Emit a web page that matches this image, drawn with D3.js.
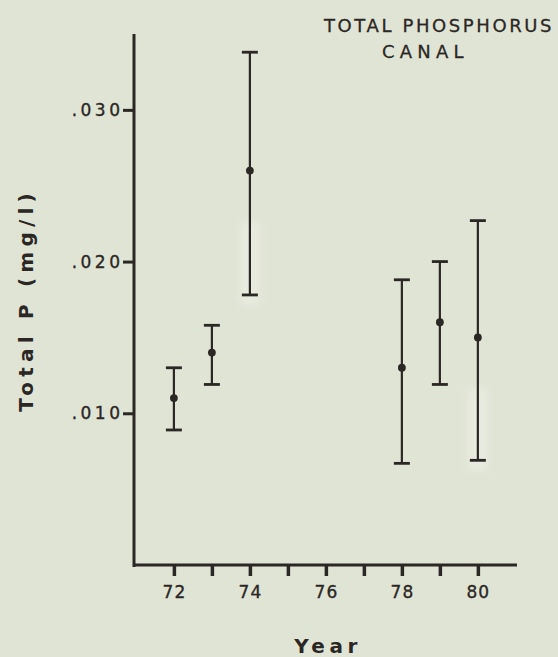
<!DOCTYPE html>
<html>
<head>
<meta charset="utf-8">
<script src="https://cdn.jsdelivr.net/npm/d3@7"></script>
<style>
  html, body { margin: 0; padding: 0; background: #e0e4d5; }
  svg { display: block; }
  text { fill: #2b2724; font-family: "DejaVu Sans", sans-serif; }
</style>
</head>
<body>
<svg id="chart" width="558" height="657"></svg>
<script>
// Annual total phosphorus in the canal: mean with range bars
const years = [72, 73, 74, 78, 79, 80];
const meanP = [0.011, 0.014, 0.026, 0.013, 0.016, 0.015];
const lowP  = [0.0089, 0.0119, 0.0178, 0.0067, 0.0119, 0.0069];
const highP = [0.0130, 0.0158, 0.0338, 0.0188, 0.0200, 0.0227];

const yTickValues = [0.010, 0.020, 0.030];
const xTickValues = [72, 73, 74, 75, 76, 77, 78, 79, 80];
const xLabelled   = [72, 74, 76, 78, 80];

const titleLines = ["TOTAL PHOSPHORUS", "CANAL"];
const yLabel = "Total P (mg/l)";
const xLabel = "Year";

const ink = "#2b2724";
const svg = d3.select("#chart");

const x = d3.scaleLinear().domain([70.95, 81.03]).range([134, 517]);
const y = d3.scaleLinear().domain([0, 0.035]).range([565, 34]);

// soft light patches from the print behind two of the bars
const defs = svg.append("defs");
defs.append("filter").attr("id", "soft")
  .attr("x", "-50%").attr("y", "-50%").attr("width", "200%").attr("height", "200%")
  .append("feGaussianBlur").attr("stdDeviation", 3.5);
[2, 5].forEach(i => {
  const top = y(lowP[i] + (highP[i] - lowP[i]) * 0.3);
  svg.append("rect")
    .attr("x", x(years[i]) - 10).attr("width", 20)
    .attr("y", top).attr("height", y(lowP[i]) - top + 10)
    .attr("fill", "#f1f3ea").attr("opacity", 0.45)
    .attr("filter", "url(#soft)");
});

// y axis
const yAxis = d3.axisLeft(y)
  .tickValues(yTickValues)
  .tickSize(11)
  .tickSizeOuter(0)
  .tickPadding(3)
  .tickFormat(d => d3.format(".3f")(d).replace(/^0/, ""));
const gy = svg.append("g").attr("transform", "translate(134,0)").call(yAxis);
gy.select(".domain").remove();
gy.selectAll(".tick line").attr("stroke", ink).attr("stroke-width", 3);
gy.selectAll(".tick text")
  .attr("font-size", 17)
  .attr("letter-spacing", "3.5px")
  .attr("dx", "3.5px")
  .attr("stroke", ink).attr("stroke-width", 0.35)
  .attr("fill", ink);
svg.append("line")
  .attr("x1", 134).attr("x2", 134)
  .attr("y1", y.range()[1]).attr("y2", y(0) + 2)
  .attr("stroke", ink).attr("stroke-width", 3);

// x axis
const xAxis = d3.axisBottom(x)
  .tickValues(xTickValues)
  .tickSize(11)
  .tickSizeOuter(0)
  .tickPadding(10)
  .tickFormat(d => xLabelled.includes(d) ? String(d) : "");
const gx = svg.append("g").attr("transform", `translate(0,${y(0)})`).call(xAxis);
gx.select(".domain").remove();
gx.selectAll(".tick line").attr("stroke", ink).attr("stroke-width", 3.5);
gx.selectAll(".tick text")
  .attr("font-size", 17)
  .attr("letter-spacing", "1px")
  .attr("stroke", ink).attr("stroke-width", 0.35)
  .attr("fill", ink);
svg.append("line")
  .attr("x1", 133).attr("x2", x.range()[1])
  .attr("y1", y(0)).attr("y2", y(0))
  .attr("stroke", ink).attr("stroke-width", 3);

// range bars with caps and mean dots
const capHalf = 8;
const bars = svg.append("g").selectAll("g")
  .data(years.map((yr, i) => ({ yr, mean: meanP[i], lo: lowP[i], hi: highP[i] })))
  .join("g");
bars.append("line")
  .attr("x1", d => x(d.yr)).attr("x2", d => x(d.yr))
  .attr("y1", d => y(d.hi)).attr("y2", d => y(d.lo))
  .attr("stroke", ink).attr("stroke-width", 2.2);
bars.append("line")
  .attr("x1", d => x(d.yr) - capHalf).attr("x2", d => x(d.yr) + capHalf)
  .attr("y1", d => y(d.hi)).attr("y2", d => y(d.hi))
  .attr("stroke", ink).attr("stroke-width", 2.8);
bars.append("line")
  .attr("x1", d => x(d.yr) - capHalf).attr("x2", d => x(d.yr) + capHalf)
  .attr("y1", d => y(d.lo)).attr("y2", d => y(d.lo))
  .attr("stroke", ink).attr("stroke-width", 2.8);
bars.append("circle")
  .attr("cx", d => x(d.yr)).attr("cy", d => y(d.mean))
  .attr("r", 3.9).attr("fill", ink);

// title block
svg.append("text")
  .attr("x", 324).attr("y", 32)
  .attr("font-size", 18).attr("letter-spacing", "2.6px")
  .attr("stroke", ink).attr("stroke-width", 0.3)
  .text(titleLines[0]);
svg.append("text")
  .attr("x", 382).attr("y", 58)
  .attr("font-size", 18).attr("letter-spacing", "5.2px")
  .attr("stroke", ink).attr("stroke-width", 0.3)
  .text(titleLines[1]);

// axis titles
svg.append("text")
  .attr("transform", "translate(33,300) rotate(-90)")
  .attr("text-anchor", "middle")
  .attr("font-size", 20).attr("font-weight", "bold")
  .attr("letter-spacing", "5.2px")
  .text(yLabel);
svg.append("text")
  .attr("x", 328).attr("y", 653)
  .attr("text-anchor", "middle")
  .attr("font-size", 20).attr("font-weight", "bold")
  .attr("letter-spacing", "4.5px")
  .text(xLabel);
</script>
</body>
</html>
